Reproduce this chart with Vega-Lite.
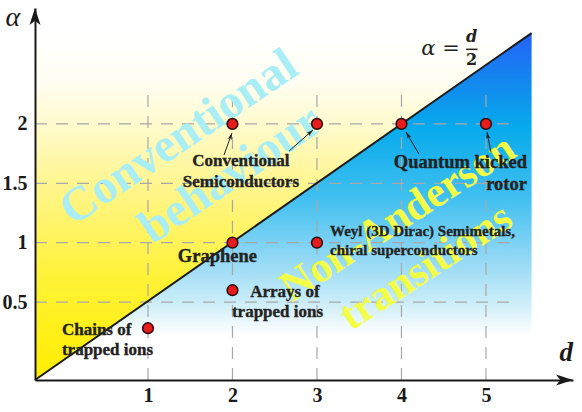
{
  "$schema": "https://vega.github.io/schema/vega-lite/v6.json",
  "width": 538,
  "height": 372,
  "autosize": {"type": "none"},
  "padding": {"left": 35, "top": 8, "right": 9, "bottom": 32},
  "background": "white",
  "config": {"view": {"stroke": null}},
  "datasets": {
    "triYellow": [{"d": -0.337, "a": -0.156, "a2": 2.765}, {"d": 5.54, "a": 2.765, "a2": 2.765}],
    "triBlue": [{"d": -0.337, "a": -0.156, "a2": -0.156}, {"d": 5.54, "a": -0.156, "a2": 2.765}],
    "diag": [{"d": -0.337, "a": -0.156}, {"d": 5.54, "a": 2.765}],
    "vgrid": [{"d": 1, "a": -0.156, "a2": 2.29}, {"d": 2, "a": -0.156, "a2": 2.29}, {"d": 3, "a": -0.156, "a2": 2.29}, {"d": 4, "a": -0.156, "a2": 2.29}, {"d": 5, "a": -0.156, "a2": 2.29}],
    "hgrid": [{"a": 0.5, "d": -0.337, "d2": 5.31}, {"a": 1, "d": -0.337, "d2": 5.31}, {"a": 1.5, "d": -0.337, "d2": 5.31}, {"a": 2, "d": -0.337, "d2": 5.31}],
    "points": [{"d": 1, "a": 0.28}, {"d": 2, "a": 0.6}, {"d": 2, "a": 1}, {"d": 3, "a": 1}, {"d": 2, "a": 2}, {"d": 3, "a": 2}, {"d": 4, "a": 2}, {"d": 5, "a": 2}],
    "arrows": [
      {"id": 1, "d": 1.899, "a": 1.738, "d2": 1.994, "a2": 1.923},
      {"id": 2, "d": 2.669, "a": 1.771, "d2": 2.953, "a2": 1.949},
      {"id": 3, "d": 4.207, "a": 1.746, "d2": 4.053, "a2": 1.932},
      {"id": 4, "d": 5.059, "a": 1.763, "d2": 5.012, "a2": 1.932}
    ],
    "heads": [
      {"id": 1, "d": 1.994, "a": 1.923},
      {"id": 2, "d": 2.953, "a": 1.949},
      {"id": 3, "d": 4.053, "a": 1.932},
      {"id": 4, "d": 5.012, "a": 1.932}
    ],
    "labels": [
      {"g": "c17", "d": 2.1, "a": 1.688, "label": "Conventional"},
      {"g": "c17", "d": 2.1, "a": 1.511, "label": "Semiconductors"},
      {"g": "c17", "d": 2.62, "a": 0.585, "label": "Arrays of"},
      {"g": "c17", "d": 2.533, "a": 0.417, "label": "trapped ions"},
      {"g": "c18", "d": 1.822, "a": 0.888, "label": "Graphene"},
      {"g": "weyl", "d": 3.154, "a": 1.098, "label": "Weyl (3D Dirac) Semimetals,"},
      {"g": "weyl", "d": 3.154, "a": 0.938, "label": "chiral superconductors"},
      {"g": "chains", "d": -0.018, "a": 0.265, "label": "Chains of"},
      {"g": "chains", "d": -0.018, "a": 0.097, "label": "trapped ions"},
      {"g": "qk", "d": 5.485, "a": 1.682, "label": "Quantum kicked"},
      {"g": "qk", "d": 5.485, "a": 1.496, "label": "rotor"}
    ],
    "bigCyan": [
      {"d": 1.367, "a": 1.881, "label": "Conventional"},
      {"d": 1.982, "a": 1.57, "label": "behaviour"}
    ],
    "bigYellow": [
      {"d": 3.959, "a": 1.208, "label": "Non-Anderson"},
      {"d": 4.29, "a": 0.795, "label": "transitions"}
    ],
    "formula": [
      {"g": "lhs", "d": 4.69, "a": 2.628, "label": "α ="},
      {"g": "frac", "d": 4.83, "a": 2.73, "label": "d"},
      {"g": "den", "d": 4.83, "a": 2.535, "label": "2"}
    ],
    "fracbar": [{"d": 4.765, "d2": 4.9, "a": 2.628}],
    "axisHeads": [
      {"id": "x", "d": 6.03, "a": -0.156},
      {"id": "y", "d": -0.337, "a": 2.976}
    ],
    "axisTitles": [
      {"g": "y", "d": -0.598, "a": 2.891, "label": "α"},
      {"g": "x", "d": 5.95, "a": 0.074, "label": "d"}
    ]
  },
  "encoding": {
    "x": {
      "field": "d", "type": "quantitative",
      "scale": {"domain": [-0.337, 6.03], "nice": false, "zero": false},
      "axis": {"values": [1, 2, 3, 4, 5], "title": null, "grid": false, "ticks": false, "tickSize": 0, "format": ".1~f", "domainColor": "#1a1a1a", "domainWidth": 2, "labelFont": "Liberation Serif", "labelFontWeight": "bold", "labelFontSize": 20, "labelColor": "#1a1a1a", "labelPadding": 5, "zindex": 1}
    },
    "y": {
      "field": "a", "type": "quantitative",
      "scale": {"domain": [-0.156, 2.976], "nice": false, "zero": false},
      "axis": {"values": [0.5, 1, 1.5, 2], "title": null, "grid": false, "ticks": false, "tickSize": 0, "format": ".1~f", "domainColor": "#1a1a1a", "domainWidth": 2, "labelFont": "Liberation Serif", "labelFontWeight": "bold", "labelFontSize": 20, "labelColor": "#1a1a1a", "labelPadding": 8, "zindex": 1}
    }
  },
  "layer": [
    {
      "data": {"name": "triYellow"},
      "mark": {"type": "area", "color": {"gradient": "linear", "x1": 0, "y1": 1, "x2": 0, "y2": 0, "stops": [{"offset": 0, "color": "#ffee00"}, {"offset": 0.3, "color": "#fff238"}, {"offset": 0.55, "color": "#fff58a"}, {"offset": 0.72, "color": "#fffac8"}, {"offset": 0.86, "color": "#fffef2"}, {"offset": 1, "color": "#ffffff"}]}},
      "encoding": {"y2": {"field": "a2"}}
    },
    {
      "data": {"name": "triBlue"},
      "mark": {"type": "area", "color": {"gradient": "linear", "x1": 0, "y1": 0, "x2": 0, "y2": 1, "stops": [{"offset": 0, "color": "#2563fa"}, {"offset": 0.13, "color": "#1485ef"}, {"offset": 0.27, "color": "#06aaec"}, {"offset": 0.48, "color": "#42c0f0"}, {"offset": 0.65, "color": "#92d8f5"}, {"offset": 0.77, "color": "#c8ecf8"}, {"offset": 0.87, "color": "#ffffff"}, {"offset": 1, "color": "#ffffff"}]}},
      "encoding": {"y2": {"field": "a2"}}
    },
    {
      "data": {"name": "vgrid"},
      "mark": {"type": "rule", "color": "#a8a8a8", "strokeWidth": 1.2, "strokeDash": [12, 9]},
      "encoding": {"y2": {"field": "a2"}}
    },
    {
      "data": {"name": "hgrid"},
      "mark": {"type": "rule", "color": "#a8a8a8", "strokeWidth": 1.2, "strokeDash": [12, 9]},
      "encoding": {"x2": {"field": "d2"}}
    },
    {
      "data": {"name": "bigCyan"},
      "mark": {"type": "text", "font": "Liberation Serif", "fontWeight": "bold", "fontSize": 48, "angle": 326, "color": "#a8eef4"},
      "encoding": {"text": {"field": "label"}}
    },
    {
      "data": {"name": "bigYellow"},
      "mark": {"type": "text", "font": "Liberation Serif", "fontWeight": "bold", "fontSize": 43, "angle": 327, "color": "#f2ff46"},
      "encoding": {"text": {"field": "label"}}
    },
    {
      "data": {"name": "diag"},
      "mark": {"type": "line", "color": "#1a1a1a", "strokeWidth": 2}
    },
    {
      "data": {"name": "arrows"},
      "mark": {"type": "rule", "color": "#222222", "strokeWidth": 1},
      "encoding": {"x2": {"field": "d2"}, "y2": {"field": "a2"}}
    },
    {
      "data": {"name": "heads"},
      "transform": [{"filter": "datum.id == 1"}],
      "mark": {"type": "point", "shape": "M0,0L0.6,2L0,1.5L-0.6,2Z", "angle": 20, "filled": true, "color": "#222222", "opacity": 1, "size": 49}
    },
    {
      "data": {"name": "heads"},
      "transform": [{"filter": "datum.id == 2"}],
      "mark": {"type": "point", "shape": "M0,0L0.6,2L0,1.5L-0.6,2Z", "angle": 49, "filled": true, "color": "#222222", "opacity": 1, "size": 49}
    },
    {
      "data": {"name": "heads"},
      "transform": [{"filter": "datum.id == 3"}],
      "mark": {"type": "point", "shape": "M0,0L0.6,2L0,1.5L-0.6,2Z", "angle": 329, "filled": true, "color": "#222222", "opacity": 1, "size": 49}
    },
    {
      "data": {"name": "heads"},
      "transform": [{"filter": "datum.id == 4"}],
      "mark": {"type": "point", "shape": "M0,0L0.6,2L0,1.5L-0.6,2Z", "angle": 349, "filled": true, "color": "#222222", "opacity": 1, "size": 49}
    },
    {
      "data": {"name": "points"},
      "mark": {"type": "point", "filled": true, "fill": "#e61c1e", "stroke": "#2a0a0a", "strokeWidth": 1.5, "opacity": 1, "size": 115}
    },
    {
      "data": {"name": "labels"},
      "transform": [{"filter": "datum.g == 'c17'"}],
      "mark": {"type": "text", "font": "Liberation Serif", "fontWeight": "bold", "fontSize": 17, "color": "#222222", "stroke": "#222222", "strokeWidth": 0.35, "align": "center"},
      "encoding": {"text": {"field": "label"}}
    },
    {
      "data": {"name": "labels"},
      "transform": [{"filter": "datum.g == 'c18'"}],
      "mark": {"type": "text", "font": "Liberation Serif", "fontWeight": "bold", "fontSize": 18.5, "color": "#222222", "stroke": "#222222", "strokeWidth": 0.35, "align": "center"},
      "encoding": {"text": {"field": "label"}}
    },
    {
      "data": {"name": "labels"},
      "transform": [{"filter": "datum.g == 'weyl'"}],
      "mark": {"type": "text", "font": "Liberation Serif", "fontWeight": "bold", "fontSize": 15, "color": "#222222", "stroke": "#222222", "strokeWidth": 0.3, "align": "left"},
      "encoding": {"text": {"field": "label"}}
    },
    {
      "data": {"name": "labels"},
      "transform": [{"filter": "datum.g == 'chains'"}],
      "mark": {"type": "text", "font": "Liberation Serif", "fontWeight": "bold", "fontSize": 17, "color": "#222222", "stroke": "#222222", "strokeWidth": 0.35, "align": "left"},
      "encoding": {"text": {"field": "label"}}
    },
    {
      "data": {"name": "labels"},
      "transform": [{"filter": "datum.g == 'qk'"}],
      "mark": {"type": "text", "font": "Liberation Serif", "fontWeight": "bold", "fontSize": 18.5, "color": "#222222", "stroke": "#222222", "strokeWidth": 0.35, "align": "right"},
      "encoding": {"text": {"field": "label"}}
    },
    {
      "data": {"name": "formula"},
      "transform": [{"filter": "datum.g == 'lhs'"}],
      "mark": {"type": "text", "font": "DejaVu Serif", "fontStyle": "italic", "fontSize": 21, "color": "#222222", "align": "right"},
      "encoding": {"text": {"field": "label"}}
    },
    {
      "data": {"name": "formula"},
      "transform": [{"filter": "datum.g == 'frac'"}],
      "mark": {"type": "text", "font": "DejaVu Serif", "fontStyle": "italic", "fontWeight": "bold", "fontSize": 16, "color": "#222222", "align": "center"},
      "encoding": {"text": {"field": "label"}}
    },
    {
      "data": {"name": "formula"},
      "transform": [{"filter": "datum.g == 'den'"}],
      "mark": {"type": "text", "font": "DejaVu Serif", "fontWeight": "bold", "fontSize": 16, "color": "#222222", "align": "center"},
      "encoding": {"text": {"field": "label"}}
    },
    {
      "data": {"name": "fracbar"},
      "mark": {"type": "rule", "color": "#222222", "strokeWidth": 1.5},
      "encoding": {"x2": {"field": "d2"}}
    },
    {
      "data": {"name": "axisHeads"},
      "transform": [{"filter": "datum.id == 'x'"}],
      "mark": {"type": "point", "shape": "M0,0L0.65,2L0,1.5L-0.65,2Z", "angle": 90, "filled": true, "color": "#1a1a1a", "opacity": 1, "size": 289}
    },
    {
      "data": {"name": "axisHeads"},
      "transform": [{"filter": "datum.id == 'y'"}],
      "mark": {"type": "point", "shape": "M0,0L0.65,2L0,1.5L-0.65,2Z", "angle": 0, "filled": true, "color": "#1a1a1a", "opacity": 1, "size": 289}
    },
    {
      "data": {"name": "axisTitles"},
      "transform": [{"filter": "datum.g == 'y'"}],
      "mark": {"type": "text", "font": "Liberation Serif", "fontStyle": "italic", "fontSize": 28, "color": "#1a1a1a"},
      "encoding": {"text": {"field": "label"}}
    },
    {
      "data": {"name": "axisTitles"},
      "transform": [{"filter": "datum.g == 'x'"}],
      "mark": {"type": "text", "font": "Liberation Serif", "fontStyle": "italic", "fontWeight": "bold", "fontSize": 27, "color": "#1a1a1a"},
      "encoding": {"text": {"field": "label"}}
    }
  ]
}
